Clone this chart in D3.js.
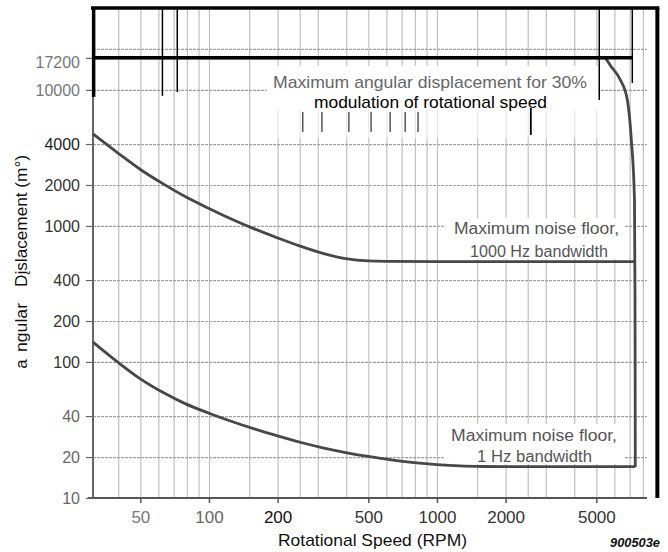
<!DOCTYPE html>
<html>
<head>
<meta charset="utf-8">
<script src="https://cdnjs.cloudflare.com/ajax/libs/d3/7.8.5/d3.min.js"></script>
<style>
  body { margin: 0; background: #fff; }
  text { font-family: "Liberation Sans", Arial, Helvetica, sans-serif; }
</style>
</head>
<body>
<div id="stage_id"></div>
<script>
// ---- ticks & graph paper ----
var xTicks = [50, 100, 200, 500, 1000, 2000, 5000];
var xGrid = [40, 50, 60, 70, 80, 90, 100, 150, 200, 250, 300, 400, 500, 600, 700, 800, 900,
             1000, 1500, 2000, 2500, 3000, 4000, 5000, 6000, 7000, 8000];
var yTicks = [10, 20, 40, 100, 200, 400, 1000, 2000, 4000, 10000, 17200];
var yGrid = [20, 40, 100, 200, 400, 1000, 2000, 4000, 10000, 20000];

// ---- curves (RPM, m°) ----
var rpmMaxDisp = [31, 5400, 5820, 6370, 6840, 7120, 7350, 7390, 7410];
var valMaxDisp = [17200, 17200, 14760, 11860, 8430, 4290, 1550, 286, 16.9];

var rpmNoise1000 = [31, 40, 50, 63, 79, 100, 126, 158, 200, 251, 316, 398, 500, 630, 1000, 7410];
var valNoise1000 = [4742, 3420, 2600, 2037, 1637, 1343, 1119, 951, 817, 711, 628, 574, 553, 549, 546, 546];

var rpmNoise1 = [31, 40, 50, 63, 79, 100, 126, 158, 200, 251, 316, 398, 500, 630, 794, 1000, 1260, 1585, 2000, 7410];
var valNoise1 = [140, 99.1, 75.2, 59.6, 49.2, 42.0, 36.5, 32.2, 28.6, 25.7, 23.4, 21.6, 20.2, 19.05, 18.2, 17.6, 17.2, 17.04, 17.0, 17.0];

// scan marks left on the page (rpm, from, to)
var scanLongRpm = [62.5, 72.6, 5150, 7190];
var scanLongLow = [9040, 9660, 8430, 11250];
var scanShortRpm = [258, 313, 411, 514, 623, 725, 826];

var W = 668, H = 552;
var pLeft = 93, pRight = 647, pTop = 8, pBottom = 498;

var svg = d3.select("#stage_id")
  .append("svg")
  .attr("width", W)
  .attr("height", H);

svg.append("rect").attr("width", W).attr("height", H).attr("fill", "#fff");

var x = d3.scaleLog().domain([31, 8340]).range([pLeft, pRight]);
var y = d3.scaleLog().domain([10, 40000]).range([pBottom, pTop]);

//************************************************************
// graph paper
//************************************************************
var gx = svg.append("g")
  .attr("transform", "translate(0," + pBottom + ")")
  .call(d3.axisBottom(x).tickValues(xGrid).tickSize(-(pBottom - pTop)).tickFormat(""));
gx.select(".domain").remove();
gx.selectAll("line").attr("stroke", "#c0c0c0").attr("stroke-width", 1.2);

var gy = svg.append("g")
  .attr("transform", "translate(" + pLeft + ",0)")
  .call(d3.axisLeft(y).tickValues(yGrid).tickSize(-(pRight - pLeft)).tickFormat(""));
gy.select(".domain").remove();
gy.selectAll("line").attr("stroke", "#a0a0a0").attr("stroke-width", 1.2).attr("stroke-dasharray", "3,1");

// white patches behind the annotations
svg.append("rect").attr("x", x(179)).attr("y", y(15000))
  .attr("width", x(5100) - x(179)).attr("height", y(7130) - y(15000)).attr("fill", "#fff");
svg.append("rect").attr("x", x(179)).attr("y", y(7130))
  .attr("width", x(5100) - x(179)).attr("height", y(4440) - y(7130)).attr("fill", "#fff").attr("opacity", 0.6);
svg.append("rect").attr("x", 444).attr("y", 218).attr("width", 180).attr("height", 41).attr("fill", "#fff");
svg.append("rect").attr("x", 444).attr("y", 424).attr("width", 180).attr("height", 40).attr("fill", "#fff");

//************************************************************
// axes
//************************************************************
svg.append("line")
  .attr("x1", pLeft).attr("x2", pLeft).attr("y1", pTop).attr("y2", pBottom)
  .attr("stroke", "#666").attr("stroke-width", 2);
svg.append("line")
  .attr("x1", pLeft - 5).attr("x2", pRight).attr("y1", pBottom).attr("y2", pBottom)
  .attr("stroke", "#555").attr("stroke-width", 2.2);

var xColors = ["#777", "#666", "#111", "#333", "#333", "#333", "#333"];
var xAxis = svg.append("g")
  .attr("transform", "translate(0," + pBottom + ")")
  .call(d3.axisBottom(x).tickValues(xTicks).tickSize(5).tickPadding(8).tickFormat(d3.format("d")));
xAxis.select(".domain").remove();
xAxis.attr("font-size", 17).attr("font-family", null);
xAxis.selectAll("line").attr("stroke", "#555").attr("stroke-width", 1.5);
xAxis.selectAll("text").attr("fill", function(d, i){ return xColors[i]; });

var yColors = ["#666", "#666", "#666", "#333", "#333", "#333", "#333", "#333", "#222", "#777", "#777"];
var yAxis = svg.append("g")
  .attr("transform", "translate(" + pLeft + ",0)")
  .call(d3.axisLeft(y).tickValues(yTicks).tickSize(7).tickPadding(6).tickFormat(d3.format("d")));
yAxis.select(".domain").remove();
yAxis.attr("font-size", 16).attr("font-family", null);
yAxis.selectAll("line").attr("stroke", "#666").attr("stroke-width", 1.2);
yAxis.selectAll("text")
  .attr("fill", function(d, i){ return yColors[i]; })
  .attr("dy", function(d){ return d === 17200 ? "0.6em" : "0.35em"; });

//************************************************************
// curves
//************************************************************
var line = d3.line()
  .x(function(d) { return x(d[0]); })
  .y(function(d) { return y(d[1]); })
  .curve(d3.curveMonotoneX);

var curves = [
  d3.zip(rpmMaxDisp, valMaxDisp),
  d3.zip(rpmNoise1000, valNoise1000),
  d3.zip(rpmNoise1, valNoise1)
];

svg.selectAll(".curve")
  .data(curves)
  .enter()
  .append("path")
  .attr("class", "curve")
  .attr("d", line)
  .attr("fill", "none")
  .attr("stroke", "#474747")
  .attr("stroke-width", 2.8)
  .attr("stroke-linejoin", "round");

//************************************************************
// annotations
//************************************************************
var notes = [
  {t: "Maximum angular displacement for 30%", cx: 430, by: 88, len: 314, size: 17, c: "#666"},
  {t: "modulation of rotational speed", cx: 430.5, by: 108, len: 233, size: 17, c: "#000"},
  {t: "Maximum noise floor,", cx: 536.5, by: 234, len: 165, size: 16, c: "#555"},
  {t: "1000 Hz bandwidth", cx: 539, by: 257, len: 138, size: 16, c: "#555"},
  {t: "Maximum noise floor,", cx: 534, by: 441, len: 166, size: 16, c: "#555"},
  {t: "1 Hz bandwidth", cx: 534.5, by: 462, len: 115, size: 16, c: "#555"}
];

svg.selectAll(".note")
  .data(notes)
  .enter()
  .append("text")
  .attr("class", "note")
  .attr("x", function(d){ return d.cx; })
  .attr("y", function(d){ return d.by; })
  .attr("text-anchor", "middle")
  .attr("font-size", function(d){ return d.size; })
  .attr("textLength", function(d){ return d.len; })
  .attr("lengthAdjust", "spacingAndGlyphs")
  .attr("fill", function(d){ return d.c; })
  .text(function(d){ return d.t; });

svg.append("text")
  .attr("x", 372.5).attr("y", 546)
  .attr("text-anchor", "middle")
  .attr("font-size", 17)
  .attr("textLength", 189)
  .attr("lengthAdjust", "spacingAndGlyphs")
  .attr("fill", "#111")
  .text("Rotational Speed (RPM)");

svg.append("text")
  .attr("x", 660).attr("y", 547)
  .attr("text-anchor", "end")
  .attr("font-size", 13)
  .attr("font-style", "italic")
  .attr("font-weight", "bold")
  .attr("textLength", 50)
  .attr("lengthAdjust", "spacingAndGlyphs")
  .attr("fill", "#111")
  .text("900503e");

// y title comes in three broken pieces
var yTitle = [
  {t: "a", cy: 364, len: null},
  {t: "ngular", cy: 327.5, len: 49},
  {t: "Dįslacement (m°)", cy: 221, len: 132}
];
svg.selectAll(".ytitle")
  .data(yTitle)
  .enter()
  .append("text")
  .attr("class", "ytitle")
  .attr("transform", function(d){ return "translate(26.5," + d.cy + ") rotate(-90)"; })
  .attr("text-anchor", "middle")
  .attr("font-size", 17)
  .attr("fill", "#111")
  .each(function(d){
    if (d.len) d3.select(this).attr("textLength", d.len).attr("lengthAdjust", "spacingAndGlyphs");
  })
  .text(function(d){ return d.t; });

//************************************************************
// black scan marks
//************************************************************
function blackLine(x1, y1, x2, y2, w){
  svg.append("line")
    .attr("x1", x1).attr("y1", y1).attr("x2", x2).attr("y2", y2)
    .attr("stroke", "#000").attr("stroke-width", w);
}

blackLine(x(31) - 2, y(40000), x(9260) + 2, y(40000), 3.5);   // top border
blackLine(x(9260), y(40000), x(9260), pBottom, 4);         // right border
blackLine(x(31.2), y(40000), x(31.2), y(8880), 3.5);       // left border
blackLine(x(31.5), y(17200), x(7190), y(17200), 3.5);      // 17200 rule

scanLongRpm.forEach(function(r, i){
  blackLine(x(r), y(40000), x(r), y(scanLongLow[i]), 1.5);
});
scanShortRpm.forEach(function(r){
  blackLine(x(r), y(6890), x(r), y(4910), 1);
});
blackLine(x(2580), y(7380), x(2580), y(4670), 1.8);
</script>
</body>
</html>
